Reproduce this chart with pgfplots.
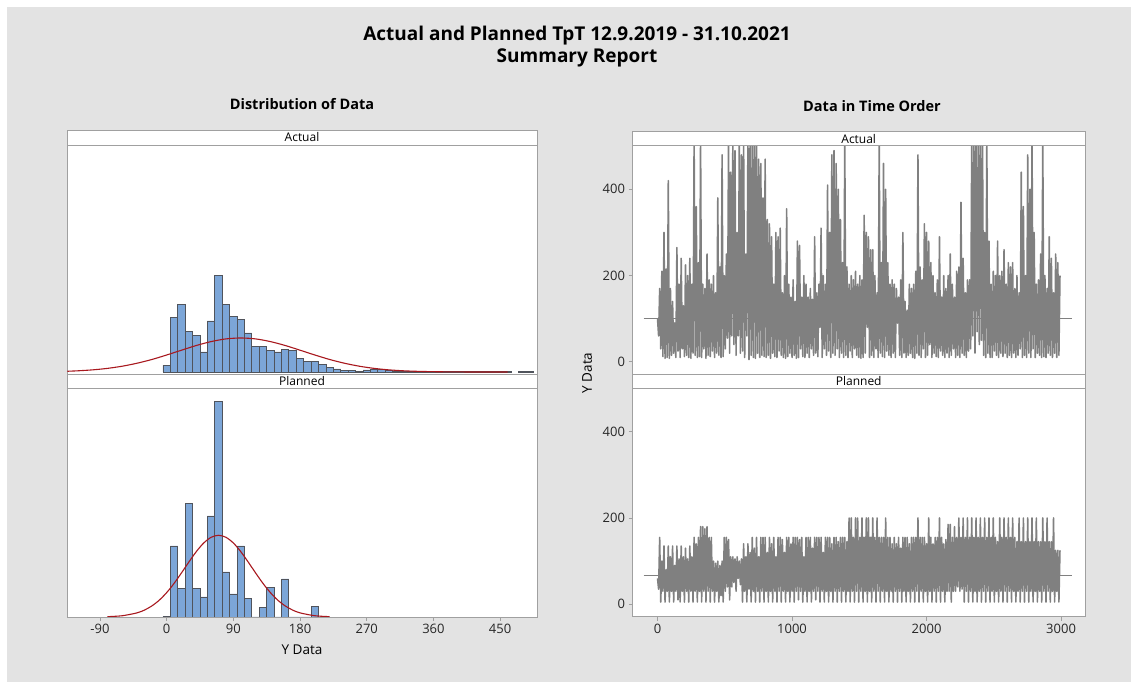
\documentclass[border=0pt]{standalone}
\usepackage{pgfplots}
\pgfplotsset{compat=1.18}
\usepackage{fontspec}
\setmainfont{Open Sans}

\definecolor{bg}{RGB}{227,227,227}
\definecolor{framegray}{RGB}{160,160,160}
\definecolor{histblue}{RGB}{124,166,216}
\definecolor{histedge}{RGB}{80,84,92}
\definecolor{curvered}{RGB}{168,24,30}
\definecolor{tsgray}{RGB}{128,128,128}

\pgfplotsset{
  panel/.style={
    scale only axis, anchor=south west,
    axis background/.style={fill=white},
    axis line style={framegray, line width=0.9pt},
    tick style={framegray, line width=0.9pt},
    major tick length=4pt, tick align=outside,
    xtick pos=bottom, ytick pos=left,
    ticklabel style={font=\fontsize{13}{15}\selectfont, text=black!85},
    /pgf/number format/assume math mode=true,
    /pgf/number format/1000 sep={},
  },
  hist/.style={panel, width=470pt, height=229pt, xmin=-134.5, xmax=499.8, ytick=\empty},
  tser/.style={panel, width=452.5pt, height=228.5pt, xmin=-186, xmax=3178, ymin=-29, ymax=501,
    ytick={0,200,400}, clip mode=individual},
  tsline/.style={tsgray, line width=1.55pt, line join=round},
}

\begin{document}
\begin{tikzpicture}
\useasboundingbox (0pt,0pt) rectangle (1131pt,682pt);
\fill[white] (0pt,0pt) rectangle (1131pt,682pt);
\fill[bg] (7pt,0pt) rectangle (1131pt,675pt);

% titles
\node[font=\fontsize{19}{22}\selectfont\bfseries] at (577pt,646pt) {Actual and Planned TpT 12.9.2019 - 31.10.2021};
\node[font=\fontsize{19}{22}\selectfont\bfseries] at (577pt,624pt) {Summary Report};
\node[font=\fontsize{14.5}{17}\selectfont\bfseries] at (302pt,578pt) {Distribution of Data};
\node[font=\fontsize{14.5}{17}\selectfont\bfseries] at (872pt,576pt) {Data in Time Order};

% ---- distribution, Actual
\begin{axis}[hist, at={(67pt,308pt)}, ymin=-2, ymax=227, xtick=\empty]
\addplot[ybar interval, fill=histblue, draw=histedge, line width=0.9pt] coordinates {
(-5,6.7) (5,54.3) (15,67.7) (25,40.7) (35,36.7) (45,20) (55,51) (65,96.3) (75,67.7)
(85,55.3) (95,52.7) (105,39) (115,25.7) (125,25.7) (135,21.3) (145,20) (155,22.3)
(165,21.3) (175,13.3) (185,10.3) (195,10.3) (205,7.3) (215,4.7) (225,3) (235,1.7)
(245,1.7) (255,0.7) (265,2) (275,2.3) (285,2.3) (295,1.7) (305,1) (315,0.7) (325,0.7)
(335,0.5) (345,0.4) (355,0.4) (365,0.3) (375,0.3) (385,0.3) (395,0.3) (405,0.3)
(415,0.3) (425,0.3) (435,0.3) (445,0.3) (455,0.3) (465,0)};
\addplot[ybar interval, fill=histblue, draw=histedge, line width=0.9pt] coordinates {
(475,0.3) (485,0.3) (495,0)};
\addplot[curvered, line width=1.1pt, smooth] coordinates {
(-134,0.74) (-120,1.19) (-100,2.13) (-80,3.61) (-60,5.79) (-40,8.76) (-20,12.5)
(0,17.0) (20,21.8) (40,26.5) (60,30.4) (80,33.1) (100,34) (120,33.1) (140,30.4)
(160,26.5) (180,21.8) (200,17.0) (220,12.5) (240,8.76) (260,5.79) (280,3.61)
(300,2.13) (320,1.19) (340,0.63) (360,0.32) (380,0.14) (400,0.05) (430,0) (460,0)};
\end{axis}

% ---- distribution, Planned
\begin{axis}[hist, at={(67pt,65pt)}, ymin=0, ymax=229,
  xtick={-90,0,90,180,270,360,450}, xticklabels={-90,0,90,180,270,360,450}]
\addplot[ybar interval, fill=histblue, draw=histedge, line width=0.9pt] coordinates {
(-5,0.5) (5,71) (15,28.3) (25,113.3) (35,28.3) (45,20) (55,101) (65,215.7) (75,45)
(85,23) (95,71) (105,18.7) (115,0) (125,9.3) (135,29.7) (145,0) (155,38) (165,0)
(175,0) (185,0) (195,10.7) (205,0)};
\addplot[curvered, line width=1.1pt, smooth] coordinates {
(-80,0.32) (-60,1.26) (-40,4.12) (-30,6.92) (-20,11.06) (-10,16.8) (0,24.4) (10,33.6)
(20,44.1) (30,55.0) (40,65.4) (50,74.0) (60,79.7) (70,81.7) (80,79.7) (90,74.0)
(100,65.4) (110,55.0) (120,44.1) (130,33.6) (140,24.4) (150,16.8) (160,11.06)
(170,6.92) (180,4.12) (200,1.26) (220,0.32)};
\end{axis}

% ---- time order, Actual
\begin{axis}[tser, at={(632.5pt,307.7pt)}, xtick=\empty]
\addplot[tsgray, line width=0.6pt] coordinates {(-104,102) (3079,102)};
\addplot[tsline] table[row sep=\\, header=false, x expr=\coordindex*8, y index=0] {
100\\60\\170\\30\\210\\12\\300\\8\\215\\10\\
420\\8\\170\\15\\140\\20\\90\\10\\265\\25\\
180\\10\\240\\30\\130\\12\\225\\15\\200\\10\\
240\\8\\180\\20\\520\\15\\360\\10\\230\\12\\
520\\10\\180\\30\\170\\8\\250\\15\\190\\12\\
180\\25\\200\\10\\160\\20\\380\\15\\220\\10\\
480\\12\\200\\30\\250\\55\\520\\20\\440\\60\\
520\\40\\490\\15\\300\\60\\520\\20\\480\\25\\
520\\10\\250\\60\\520\\5\\520\\15\\520\\10\\
520\\8\\520\\20\\470\\10\\460\\15\\380\\12\\
470\\10\\330\\15\\320\\8\\290\\20\\180\\12\\
300\\10\\290\\25\\310\\15\\160\\10\\200\\8\\
355\\12\\180\\20\\150\\10\\190\\15\\140\\8\\
280\\10\\270\\30\\150\\12\\200\\10\\180\\20\\
150\\10\\170\\30\\145\\15\\290\\20\\160\\12\\
180\\80\\310\\10\\200\\30\\180\\15\\410\\25\\
300\\10\\480\\20\\490\\15\\460\\30\\400\\10\\
330\\20\\230\\10\\520\\15\\220\\10\\180\\25\\
200\\10\\190\\30\\210\\15\\180\\10\\200\\8\\
190\\10\\340\\20\\300\\80\\290\\10\\260\\15\\
260\\10\\200\\30\\160\\10\\520\\20\\230\\12\\
460\\10\\400\\25\\230\\15\\180\\10\\190\\20\\
180\\10\\170\\90\\150\\15\\190\\10\\300\\20\\
140\\10\\120\\15\\180\\20\\170\\10\\180\\8\\
210\\20\\480\\15\\220\\10\\190\\30\\320\\10\\
300\\15\\280\\40\\230\\10\\200\\20\\160\\12\\
190\\10\\290\\25\\150\\15\\200\\10\\170\\20\\
200\\10\\250\\15\\180\\30\\150\\10\\210\\15\\
220\\10\\370\\20\\240\\15\\160\\10\\190\\25\\
190\\30\\520\\60\\520\\20\\520\\70\\520\\40\\
520\\50\\520\\15\\300\\10\\520\\20\\280\\10\\
180\\10\\210\\25\\200\\15\\280\\10\\200\\20\\
210\\12\\260\\20\\180\\10\\230\\15\\220\\10\\
230\\20\\170\\10\\200\\15\\160\\30\\440\\10\\
360\\15\\200\\10\\480\\20\\400\\10\\520\\30\\
300\\10\\180\\20\\190\\15\\250\\10\\520\\12\\
200\\10\\170\\20\\290\\15\\240\\10\\160\\20\\
250\\10\\230\\15\\200\\
};
\end{axis}

% ---- time order, Planned
\begin{axis}[tser, at={(632.5pt,65.3pt)}, xtick={0,1000,2000,3000}]
\addplot[tsgray, line width=0.6pt] coordinates {(-104,66.6) (3079,66.6)};
\addplot[tsline] table[row sep=\\, header=false, x expr=\coordindex*8, y index=0] {
60\\35\\155\\5\\100\\30\\135\\5\\80\\30\\
135\\5\\110\\30\\135\\5\\90\\30\\135\\10\\
105\\5\\135\\30\\110\\5\\130\\30\\105\\5\\
135\\30\\110\\5\\155\\30\\140\\5\\155\\30\\
180\\5\\180\\30\\175\\5\\180\\30\\155\\5\\
155\\30\\100\\5\\95\\30\\100\\5\\90\\20\\
100\\5\\155\\30\\155\\40\\150\\10\\110\\40\\
110\\50\\105\\30\\110\\60\\100\\45\\105\\5\\
140\\30\\110\\5\\140\\35\\120\\5\\155\\30\\
130\\5\\155\\30\\110\\5\\155\\30\\155\\5\\
155\\30\\120\\5\\155\\30\\140\\5\\155\\30\\
110\\5\\155\\30\\155\\5\\150\\30\\120\\5\\
155\\30\\155\\5\\140\\30\\155\\5\\155\\30\\
155\\10\\150\\30\\155\\5\\110\\30\\155\\5\\
155\\30\\155\\5\\130\\30\\155\\10\\155\\30\\
155\\5\\155\\30\\120\\5\\155\\30\\155\\5\\
155\\30\\140\\5\\155\\30\\155\\5\\145\\30\\
155\\5\\155\\30\\155\\5\\145\\30\\200\\5\\
200\\30\\155\\5\\200\\30\\200\\5\\155\\30\\
200\\5\\155\\30\\200\\5\\200\\30\\155\\5\\
200\\30\\155\\5\\200\\30\\155\\5\\155\\30\\
155\\5\\200\\30\\155\\5\\155\\30\\140\\5\\
155\\30\\140\\5\\155\\30\\130\\5\\155\\30\\
155\\5\\155\\30\\140\\5\\155\\30\\155\\5\\
155\\30\\200\\5\\155\\30\\155\\5\\155\\30\\
140\\5\\200\\30\\155\\5\\140\\30\\155\\5\\
155\\30\\200\\5\\155\\30\\140\\5\\150\\30\\
185\\30\\185\\5\\155\\30\\180\\30\\155\\40\\
200\\30\\155\\35\\200\\5\\155\\30\\200\\5\\
155\\30\\200\\5\\155\\30\\200\\5\\155\\30\\
200\\5\\155\\30\\200\\5\\155\\30\\200\\5\\
155\\30\\200\\5\\155\\30\\145\\5\\200\\30\\
155\\5\\200\\30\\155\\5\\200\\30\\155\\5\\
200\\30\\155\\5\\145\\30\\200\\5\\145\\30\\
200\\5\\145\\30\\200\\5\\145\\30\\200\\5\\
145\\30\\200\\5\\145\\30\\145\\5\\200\\30\\
145\\5\\200\\30\\145\\5\\145\\30\\200\\5\\
125\\30\\125\\5\\125\\
};
\end{axis}

% strip headers
\tikzset{strip/.style={fill=white, draw=framegray, line width=0.9pt}}
\draw[strip] (67pt,537pt) rectangle (537pt,552pt);
\draw[strip] (67pt,294pt) rectangle (537pt,308pt);
\draw[strip] (632.5pt,536.2pt) rectangle (1085pt,550.3pt);
\draw[strip] (632.5pt,293.8pt) rectangle (1085pt,307.7pt);
\node[font=\fontsize{12}{14}\selectfont] at (302pt,544.5pt) {Actual};
\node[font=\fontsize{12}{14}\selectfont] at (302pt,301pt) {Planned};
\node[font=\fontsize{12}{14}\selectfont] at (858.7pt,543.3pt) {Actual};
\node[font=\fontsize{12}{14}\selectfont] at (858.7pt,300.8pt) {Planned};

% axis labels
\node[font=\fontsize{13.5}{16}\selectfont] at (302pt,32pt) {Y Data};
\node[font=\fontsize{13.5}{16}\selectfont, rotate=90] at (587pt,309pt) {Y Data};
\end{tikzpicture}
\end{document}
